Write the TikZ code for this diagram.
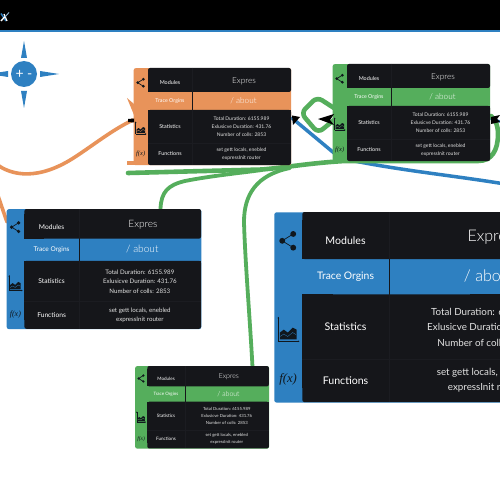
\documentclass[tikz,border=0pt]{standalone}
\usepackage{fontspec}
\setmainfont{Lato}
\newfontfamily\lightf{Lato Light}
\usetikzlibrary{arrows.meta}
\definecolor{cdark}{HTML}{15161A}
\definecolor{cline}{HTML}{1B1C21}
\definecolor{corange}{HTML}{E8935A}
\definecolor{cgreen}{HTML}{55AE5C}
\definecolor{cblue}{HTML}{2E80C1}
\definecolor{ctext}{HTML}{E2E2E2}
\definecolor{cicon}{HTML}{10171D}
\tikzset{
  cardbody/.style={draw=none,fill=#1,rounded corners=2pt,minimum width=157.5pt,minimum height=97pt,inner sep=0pt,anchor=north west},
  lab/.style={text=white,font=\fontsize{5.4}{6.5}\selectfont,inner sep=0pt},
  val/.style={text=ctext,font=\fontsize{5}{7.8}\selectfont,align=center,inner sep=0pt},
  big/.style={text=white,font=\lightf\fontsize{8.2}{10}\selectfont,inner sep=0pt},
  conn/.style={line width=#1,line cap=round,line join=round},
  tipb/.style={fill=black,draw=none}
}
\newcommand{\card}[5]{%
\begin{scope}[shift={(#2,#3)},scale=#4,transform shape]
  \node[cardbody=#5] (#1) at (0,0) {};
  \fill[cdark,rounded corners=2pt] (14.5,0) rectangle (157.5,24);
  \fill[cdark] (14.5,4) rectangle (30,24);
  \fill[cdark,rounded corners=2pt] (14.5,42) rectangle (157.5,97);
  \fill[cdark] (14.5,42) rectangle (30,90);
  \fill[cdark] (100,42) rectangle (157.5,60);
  \draw[cline,line width=.3pt] (59,0) -- (59,24) (59,42) -- (59,97) (14.5,75) -- (157.5,75);
  \draw[cdark,line width=.4pt] (59,24) -- (59,42);
  \node[lab] (#1-mod) at (36.5,14.7) {Modules};
  \node[big] (#1-exp) at (110.5,13) {Expres};
  \node[lab,text=white,font=\fontsize{5.3}{6}\selectfont] (#1-tr) at (36.5,32.8) {Trace Orgins};
  \node[big] (#1-ab) at (110,32.8) {/ about};
  \node[lab] (#1-st) at (36.5,58.7) {Statistics};
  \node[val] (#1-sv) at (108,58.8) {Total Duration: 6155.989\\Exlusicve Duration: 431.76\\Number of colls: 2853};
  \node[lab] (#1-fn) at (36.5,86) {Functions};
  \node[val] (#1-fv) at (108,86) {set gett locals, enebled\\expressInit router};
  % share icon
  \fill[cicon] (4.2,14.7) circle (1.5) (9.8,11.2) circle (1.5) (9.8,18.2) circle (1.5);
  \draw[cicon,line width=.7pt] (9.8,11.2) -- (4.2,14.7) -- (9.8,18.2);
  % chart icon
  \draw[cicon,line width=.45pt,-{Stealth[length=1.5pt,width=1.5pt]}] (2.2,66) -- (2.2,53.5);
  \draw[cicon,line width=.45pt,-{Stealth[length=1.5pt,width=1.5pt]}] (2.2,66) -- (13,66);
  \fill[cicon] (3,65) -- (3,61.5) -- (5,60) -- (7,61.5) -- (9.5,59) -- (11.5,60) -- (11.5,65) -- cycle;
  \draw[#5,line width=.3pt] (3,63.5) -- (5,62.3) -- (7,63.5) -- (9.5,61.5) -- (11.2,62.5);
  \node[text=cicon,inner sep=0pt,font=\fontspec{Liberation Serif}\itshape\fontsize{6.5}{7}\selectfont] (#1-fx) at (7.2,85.5) {f(x)};
\end{scope}}
\begin{document}
\begin{tikzpicture}[x=1pt,y=-1pt]
\path[use as bounding box,clip] (0,0) rectangle (500,500);
\fill[white] (0,0) rectangle (500,500);
% header
\fill[black] (0,0) rectangle (500,30.5);
\fill[cblue] (0,30.5) rectangle (500,32);
\draw[cblue,line width=1.4pt] (1,13.5) -- (6,21);
\draw[white,line width=1.4pt] (1,21) -- (5,16.5);
\draw[white,line width=1.2pt] (4,14) -- (7,21);
\draw[cblue!50!white,line width=.9pt] (5,17) -- (9,12.5);
% compass
\node[circle,fill=cblue,minimum size=26pt,inner sep=0pt,text=white,font=\fontsize{14}{15}\selectfont] (zoom) at (24,74) {+ -};
\fill[cblue] (24,41) -- (27,58) -- (21,58) -- cycle;
\fill[cblue] (24,108) -- (27,91) -- (21,91) -- cycle;
\fill[cblue] (59,74) -- (40,71) -- (40,77) -- cycle;
\fill[cblue] (-11,74) -- (8,71) -- (8,77) -- cycle;
% named anchors
\coordinate (orangeIn) at (133,120);
\coordinate (orangeOut) at (292,118);
\coordinate (greenIn) at (333,120);
\coordinate (greenOut) at (491,116);
\coordinate (offL) at (-5,163);
\coordinate (offL2) at (-4,190);
\coordinate (offR) at (505,184);
\coordinate (blueTop) at (160.5,209);
\coordinate (smallTop) at (252.5,367);
\coordinate (farL) at (128,173);
% connectors
\draw[corange,conn=3.6pt] (offL) .. controls (12,177) and (40,180) .. (75,157) .. controls (95,144) and (112,130) .. (orangeIn);
\draw[corange,conn=3.6pt] (offL2) -- (7,222);
\fill[corange] (127,98) -- (134,104) -- (134,115) -- cycle;
\fill[corange] (127,161) rectangle (135,165);
\draw[cblue,conn=3.5pt] (orangeOut) -- (340,158) .. controls (395,170) and (450,175) .. (offR);
\draw[cblue,conn=2.5pt] (491,119) -- (502,122);
\draw[cgreen,conn=4.6pt] (farL) -- (262,169.5) .. controls (290,167) and (310,163) .. (345,161) -- (478,161) .. controls (492,161) and (498,150) .. (498,134) .. controls (498,125) and (495,119) .. (greenOut);
\draw[cgreen,conn=3.8pt] (blueTop) .. controls (161,192) and (168,185) .. (185,181) .. controls (210,176) and (240,173) .. (262,170);
\draw[cgreen,conn=3.8pt] (smallTop) .. controls (250,320) and (245,260) .. (244,222) .. controls (244,195) and (256,175) .. (290,168);
\draw[cgreen,conn=4.6pt,rounded corners=6pt] (334,108) -- (317,97) -- (301,113) -- (318,133) -- (334,120);
% cards
\card{corg}{133.5}{68}{1}{corange}
\card{cgrn}{332.5}{64}{1}{cgreen}
\card{cblu}{6.5}{209}{1.235}{cblue}
\card{cbig}{274}{212}{1.96}{cblue}
\card{csml}{135}{366}{0.85}{cgreen}
% arrow heads
\fill[tipb] (128,119) -- (134,118.5) -- (134,122.5) -- (128,122) -- cycle;
\fill[tipb] (292,115.5) -- (300,117) -- (293,125) -- cycle;
\fill[tipb] (318,119) -- (334,114) -- (330,120) -- (334,125) -- cycle;
\fill[tipb] (491,117) -- (500,115) -- (497,119) -- (500,122) -- (491,124) -- cycle;
\end{tikzpicture}
\end{document}
